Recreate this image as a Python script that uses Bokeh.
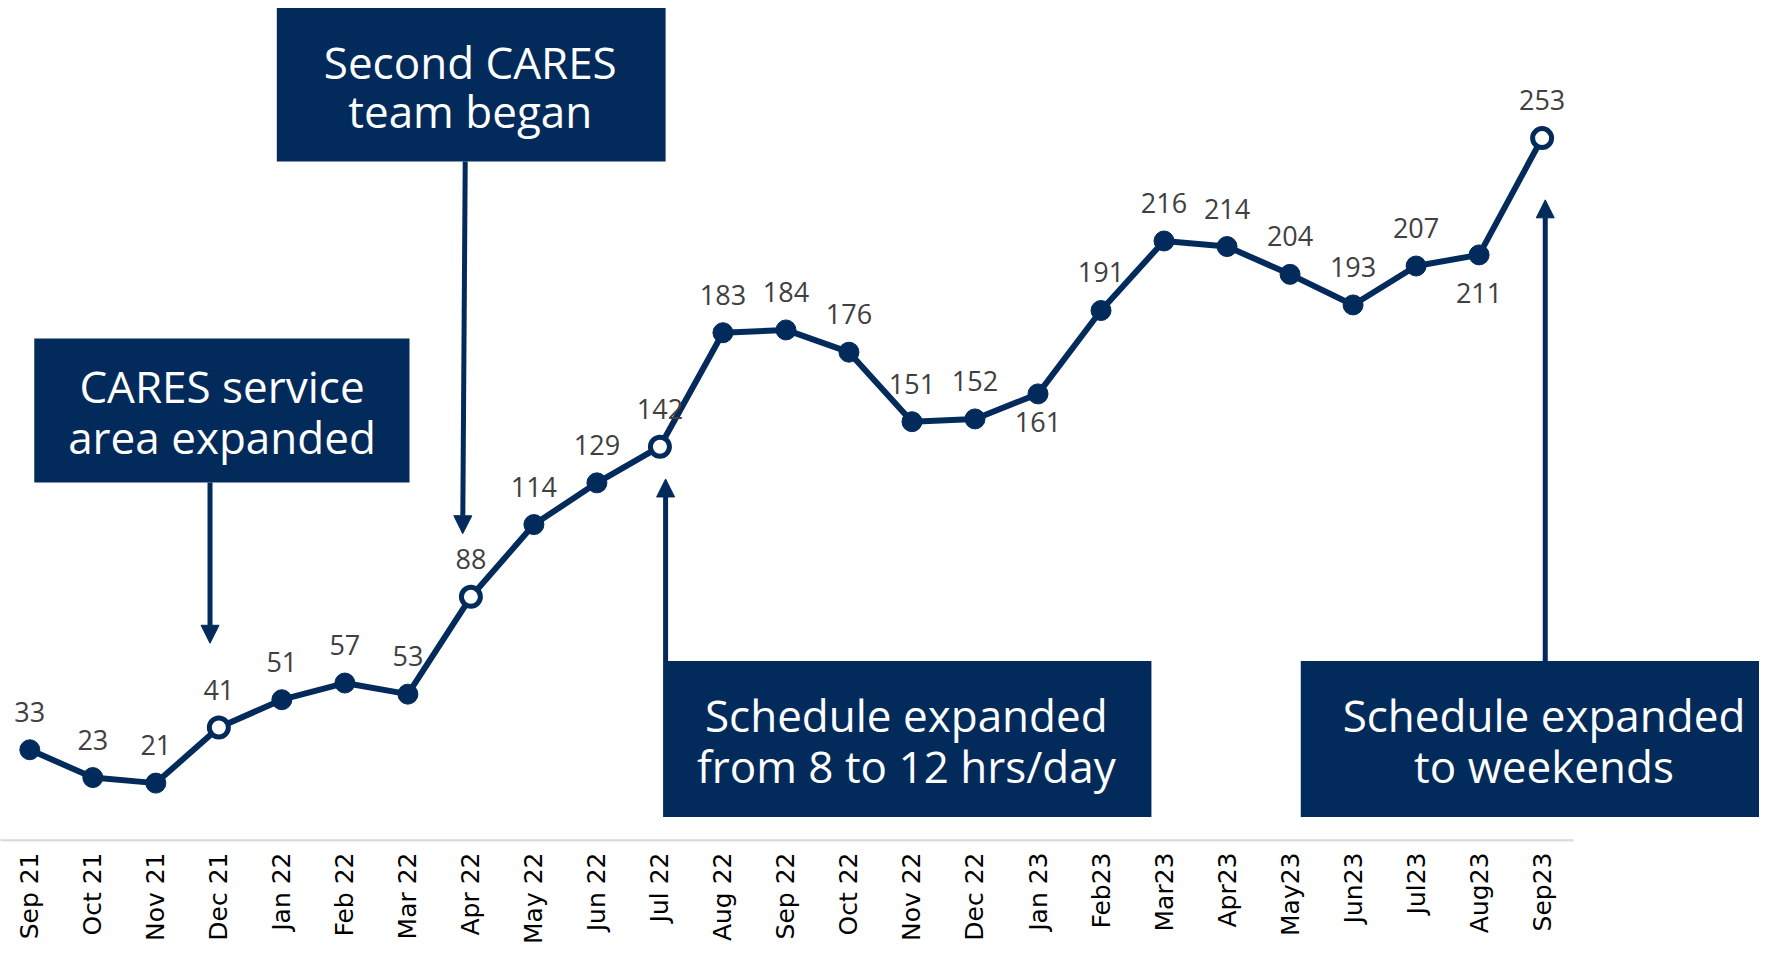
import math
from bokeh.plotting import figure
from bokeh.models import (ColumnDataSource, Range1d, FixedTicker, LabelSet,
                          Arrow, NormalHead)
from bokeh.core.properties import value
from bokeh.embed import file_html
from bokeh.resources import INLINE

# ---------------- data ----------------
months = ["Sep 21", "Oct 21", "Nov 21", "Dec 21", "Jan 22", "Feb 22", "Mar 22",
          "Apr 22", "May 22", "Jun 22", "Jul 22", "Aug 22", "Sep 22", "Oct 22",
          "Nov 22", "Dec 22", "Jan 23", "Feb23", "Mar23", "Apr23", "May23",
          "Jun23", "Jul23", "Aug23", "Sep23"]
counts = [33, 23, 21, 41, 51, 57, 53, 88, 114, 129, 142, 183, 184, 176,
          151, 152, 161, 191, 216, 214, 204, 193, 207, 211, 253]
event_months = ["Dec 21", "Apr 22", "Jul 22", "Sep23"]

events = [
    ("Dec 21", ["CARES service", "area expanded"]),
    ("Apr 22", ["Second CARES", "team began"]),
    ("Jul 22", ["Schedule expanded", "from 8 to 12 hrs/day"]),
    ("Sep23", ["Schedule expanded", "to weekends"]),
]

# ---------------- style ----------------
NAVY = "#022b5c"
LABEL_GREY = "#404040"
LABEL_ABOVE = 38
LABEL_BELOW = {"Jan 23": -28, "Aug23": -38}

xs = list(range(len(months)))

src = ColumnDataSource(dict(
    x=xs, y=counts, txt=[str(c) for c in counts],
    dy=[LABEL_BELOW.get(m, LABEL_ABOVE) for m in months],
))
solid = ColumnDataSource(dict(
    x=[i for i, m in enumerate(months) if m not in event_months],
    y=[c for m, c in zip(months, counts) if m not in event_months]))
hollow = ColumnDataSource(dict(
    x=[i for i, m in enumerate(months) if m in event_months],
    y=[c for m, c in zip(months, counts) if m in event_months]))

p = figure(width=1759, height=946, output_backend="svg", toolbar_location=None,
           x_range=Range1d(-0.465, 27.45), y_range=Range1d(0, 302.5),
           y_axis_location=None, min_border_left=0, min_border_right=0,
           min_border_top=0, min_border_bottom=0)
p.outline_line_color = None
p.grid.visible = False
p.background_fill_color = "white"

# axis
ax = p.xaxis[0]
ax.ticker = FixedTicker(ticks=xs)
ax.major_label_overrides = {i: m for i, m in enumerate(months)}
ax.major_label_orientation = math.pi / 2
ax.major_label_text_font = "DejaVu Sans"
ax.major_label_text_font_size = "25px"
ax.major_label_text_color = "black"
ax.major_label_standoff = 5
ax.axis_line_color = None
ax.major_tick_line_color = None
ax.minor_tick_line_color = None

# light baseline
p.segment(x0=[-0.5], y0=[0.4], x1=[len(months) - 0.5], y1=[0.4],
          line_color="#d9d9d9", line_width=2.5)

# annotation boxes (data-unit placement)
box_geo = {
    "Dec 21": dict(l=0.071, r=6.026, b=129.1, t=180.9, tx=3.05, ty=(163.8, 145.6),
                   ax=(2.86, 129.1, 2.86, 71.3)),
    "Apr 22": dict(l=3.92, r=10.09, b=244.6, t=299.8, tx=6.99, ty=(280.4, 262.7),
                   ax=(6.91, 244.6, 6.87, 110.7)),
    "Jul 22": dict(l=10.05, r=17.80, b=8.8, t=64.9, tx=13.91, ty=(45.6, 27.0),
                   ax=(10.09, 64.9, 10.09, 130.4)),
    "Sep23": dict(l=20.17, r=27.6, b=8.8, t=64.9, tx=24.03, ty=(45.6, 27.0),
                  ax=(24.05, 64.9, 24.05, 230.8)),
}

p.quad(left=[box_geo[m]["l"] for m, _ in events],
       right=[box_geo[m]["r"] for m, _ in events],
       bottom=[box_geo[m]["b"] for m, _ in events],
       top=[box_geo[m]["t"] for m, _ in events],
       fill_color=NAVY, line_color=None)

tx, ty, tt = [], [], []
for m, lines in events:
    g = box_geo[m]
    for line, yy in zip(lines, g["ty"]):
        tx.append(g["tx"]); ty.append(yy); tt.append(line)
p.text(x=tx, y=ty, text=tt, text_color="white", text_align="center",
       text_baseline="middle", text_font=value("Open Sans"),
       text_font_size="44px")

for m, _ in events:
    x0, y0, x1, y1 = box_geo[m]["ax"]
    p.add_layout(Arrow(end=NormalHead(size=18, fill_color=NAVY, line_color=NAVY),
                       x_start=x0, y_start=y0, x_end=x1, y_end=y1,
                       line_color=NAVY, line_width=5))

# series
p.line("x", "y", source=src, line_color=NAVY, line_width=6, line_join="round")
p.scatter("x", "y", source=solid, size=20, fill_color=NAVY, line_color=NAVY)
p.scatter("x", "y", source=hollow, size=19, fill_color="white", line_color=NAVY,
          line_width=5)

p.add_layout(LabelSet(x="x", y="y", text="txt", source=src, y_offset="dy",
                      text_align="center", text_baseline="middle",
                      text_font=value("Open Sans"), text_font_size="27px",
                      text_color=LABEL_GREY))

open("out.html", "w").write(file_html(p, INLINE))
